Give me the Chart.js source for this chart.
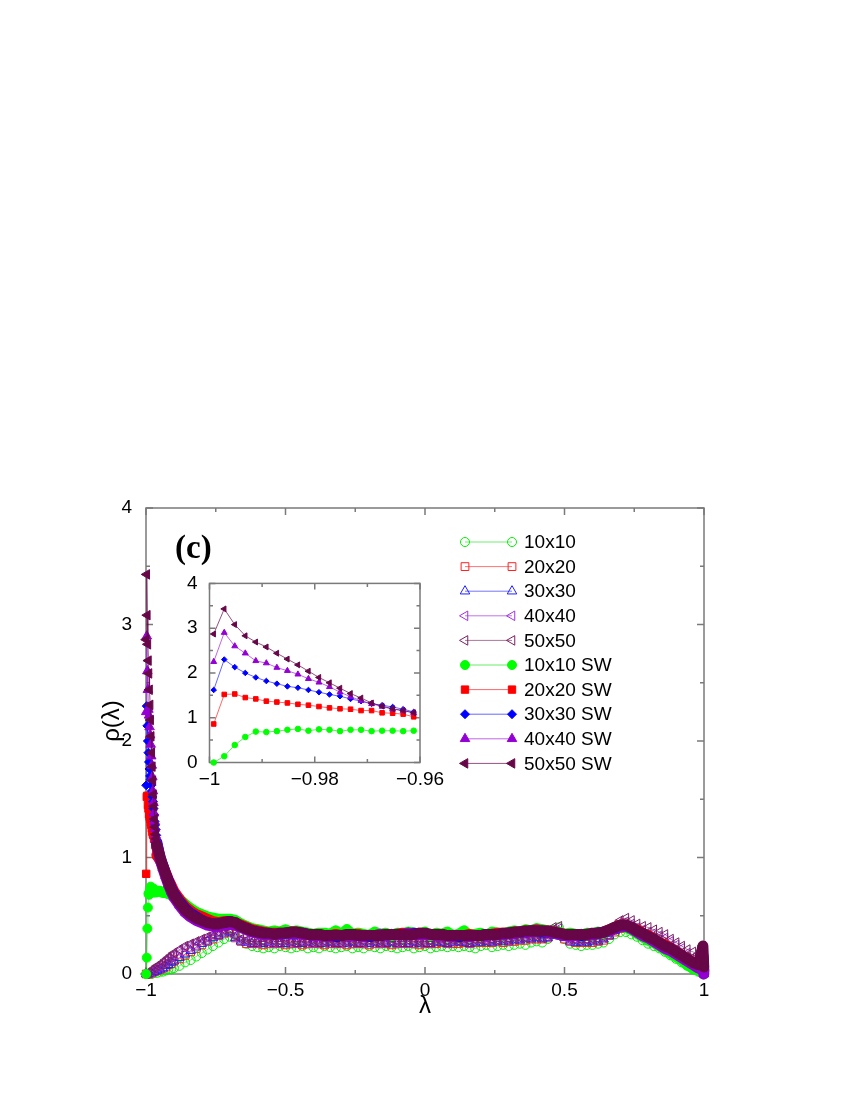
<!DOCTYPE html>
<html>
<head>
<meta charset="utf-8">
<script src="https://cdn.jsdelivr.net/npm/chart.js@4.4.1/dist/chart.umd.min.js"></script>
<style>
  body { margin: 0; background: #fff; }
  #caja { position: relative; width: 850px; height: 1100px; }
  #principal { position: absolute; left: 0; top: 0; }
  #recuadro { position: absolute; left: 150px; top: 560px; }
</style>
</head>
<body>
<div id="caja">
  <canvas id="principal" width="850" height="1100" style="width:850px;height:1100px"></canvas>
  <canvas id="recuadro" width="310" height="250" style="width:310px;height:250px"></canvas>
</div>
<script>
// --- Rejillas de lambda ---
// puntos junto a -1 (los del recuadro)
const lamCerca = [-0.9992, -0.9972, -0.9952, -0.9932, -0.9912, -0.9892, -0.9872, -0.9852, -0.9832, -0.9812,
  -0.9792, -0.9772, -0.9752, -0.9732, -0.9712, -0.9692, -0.9672, -0.9652, -0.9632, -0.9612];
const lamAbiertoCerca = [-0.9992, -0.99, -0.98, -0.97, -0.96];
const lamLejos = [
  -0.95, -0.94, -0.93, -0.92, -0.91, -0.90,
  -0.88, -0.86, -0.84, -0.82, -0.80, -0.78, -0.76, -0.74, -0.72, -0.70,
  -0.68, -0.66, -0.64, -0.62, -0.60, -0.58, -0.56, -0.54, -0.52, -0.50,
  -0.48, -0.46, -0.44, -0.42, -0.40, -0.38, -0.36, -0.34, -0.32, -0.30,
  -0.28, -0.26, -0.24, -0.22, -0.20, -0.18, -0.16, -0.14, -0.12, -0.10,
  -0.08, -0.06, -0.04, -0.02, 0.00, 0.02, 0.04, 0.06, 0.08, 0.10,
  0.12, 0.14, 0.16, 0.18, 0.20, 0.22, 0.24, 0.26, 0.28, 0.30,
  0.32, 0.34, 0.36, 0.38, 0.40, 0.42, 0.44, 0.46, 0.48, 0.50,
  0.52, 0.54, 0.56, 0.58, 0.60, 0.62, 0.64, 0.66, 0.68, 0.70,
  0.72, 0.74, 0.76, 0.78, 0.80, 0.82, 0.84, 0.86, 0.88, 0.90,
  0.92, 0.94, 0.96, 0.98,
  0.99, 0.996, 0.9992];

// --- Series SW, parte cercana a -1 (recuadro) ---
const sw10Cerca = [0.00, 0.14, 0.39, 0.57, 0.69, 0.68, 0.70, 0.73, 0.75, 0.71, 0.74, 0.73, 0.70, 0.73, 0.73, 0.70, 0.71, 0.71, 0.70, 0.71];
const sw20Cerca = [0.86, 1.52, 1.53, 1.45, 1.42, 1.37, 1.35, 1.33, 1.30, 1.28, 1.25, 1.22, 1.20, 1.19, 1.16, 1.16, 1.11, 1.10, 1.08, 1.02];
const sw30Cerca = [1.62, 2.30, 2.13, 2.00, 1.90, 1.82, 1.76, 1.70, 1.67, 1.62, 1.57, 1.52, 1.48, 1.42, 1.37, 1.31, 1.28, 1.24, 1.19, 1.13];
const sw40Cerca = [2.25, 2.90, 2.60, 2.44, 2.27, 2.22, 2.12, 2.05, 1.97, 1.87, 1.79, 1.69, 1.57, 1.47, 1.38, 1.31, 1.25, 1.19, 1.16, 1.11];
const sw50Cerca = [2.87, 3.43, 3.08, 2.83, 2.69, 2.58, 2.44, 2.31, 2.18, 2.04, 1.90, 1.78, 1.66, 1.54, 1.44, 1.33, 1.26, 1.20, 1.16, 1.11];

// --- Series SW, resto del intervalo ---
const sw10Lejos = [
  0.71, 0.70, 0.70, 0.69, 0.68, 0.67,
  0.64, 0.60, 0.56, 0.53, 0.51, 0.49, 0.48, 0.47, 0.47, 0.47,
  0.46, 0.43, 0.41, 0.39, 0.38, 0.37, 0.36, 0.37, 0.36, 0.38,
  0.36, 0.37, 0.36, 0.35, 0.34, 0.35, 0.35, 0.34, 0.37, 0.34,
  0.38, 0.34, 0.35, 0.34, 0.33, 0.36, 0.34, 0.35, 0.33, 0.35,
  0.34, 0.36, 0.35, 0.34, 0.36, 0.33, 0.35, 0.34, 0.36, 0.33,
  0.34, 0.37, 0.33, 0.34, 0.35, 0.33, 0.36, 0.35, 0.34, 0.36,
  0.37, 0.36, 0.38, 0.37, 0.39, 0.38, 0.37, 0.35, 0.36, 0.34,
  0.35, 0.34, 0.33, 0.35, 0.34, 0.36, 0.35, 0.37, 0.40, 0.41,
  0.40, 0.38, 0.35, 0.32, 0.29, 0.27, 0.24, 0.21, 0.18, 0.15,
  0.12, 0.08, 0.05, 0.03,
  0.02, 0.01, 0.00];
const sw20Lejos = [
  0.98, 0.93, 0.87, 0.81, 0.76, 0.71,
  0.64, 0.58, 0.54, 0.51, 0.49, 0.47, 0.45, 0.44, 0.45, 0.45,
  0.44, 0.42, 0.40, 0.38, 0.37, 0.36, 0.35, 0.35, 0.35, 0.35,
  0.36, 0.36, 0.35, 0.34, 0.34, 0.34, 0.33, 0.33, 0.34, 0.33,
  0.33, 0.34, 0.34, 0.33, 0.33, 0.33, 0.34, 0.34, 0.34, 0.34,
  0.35, 0.34, 0.34, 0.35, 0.34, 0.34, 0.34, 0.34, 0.33, 0.33,
  0.33, 0.33, 0.34, 0.33, 0.33, 0.34, 0.34, 0.35, 0.35, 0.35,
  0.36, 0.36, 0.37, 0.37, 0.38, 0.37, 0.37, 0.36, 0.35, 0.34,
  0.34, 0.34, 0.34, 0.34, 0.34, 0.35, 0.36, 0.38, 0.40, 0.42,
  0.42, 0.40, 0.38, 0.35, 0.33, 0.30, 0.27, 0.25, 0.22, 0.19,
  0.16, 0.13, 0.10, 0.07,
  0.10, 0.14, 0.02];
const sw30Lejos = [
  1.00, 0.93, 0.86, 0.80, 0.74, 0.69,
  0.62, 0.56, 0.52, 0.49, 0.46, 0.44, 0.43, 0.43, 0.44, 0.45,
  0.43, 0.41, 0.39, 0.37, 0.36, 0.35, 0.34, 0.34, 0.34, 0.35,
  0.35, 0.35, 0.35, 0.34, 0.33, 0.33, 0.33, 0.33, 0.32, 0.33,
  0.33, 0.33, 0.33, 0.33, 0.32, 0.33, 0.33, 0.33, 0.34, 0.34,
  0.34, 0.34, 0.35, 0.34, 0.34, 0.34, 0.34, 0.33, 0.33, 0.33,
  0.32, 0.33, 0.33, 0.33, 0.33, 0.34, 0.34, 0.34, 0.34, 0.35,
  0.35, 0.36, 0.36, 0.37, 0.37, 0.36, 0.36, 0.35, 0.34, 0.34,
  0.33, 0.33, 0.33, 0.34, 0.34, 0.35, 0.36, 0.37, 0.39, 0.41,
  0.41, 0.40, 0.37, 0.34, 0.32, 0.29, 0.26, 0.23, 0.21, 0.18,
  0.15, 0.12, 0.09, 0.06,
  0.12, 0.16, 0.03];
const sw40Lejos = [
  0.99, 0.91, 0.84, 0.77, 0.71, 0.66,
  0.59, 0.53, 0.49, 0.46, 0.44, 0.42, 0.41, 0.41, 0.42, 0.43,
  0.42, 0.40, 0.38, 0.36, 0.35, 0.34, 0.34, 0.34, 0.34, 0.35,
  0.35, 0.35, 0.34, 0.34, 0.33, 0.33, 0.33, 0.32, 0.33, 0.33,
  0.33, 0.33, 0.33, 0.32, 0.33, 0.33, 0.34, 0.33, 0.34, 0.34,
  0.34, 0.35, 0.34, 0.34, 0.34, 0.34, 0.33, 0.33, 0.33, 0.32,
  0.33, 0.33, 0.32, 0.33, 0.33, 0.33, 0.34, 0.34, 0.34, 0.35,
  0.35, 0.36, 0.36, 0.36, 0.37, 0.37, 0.36, 0.35, 0.34, 0.33,
  0.33, 0.33, 0.34, 0.34, 0.34, 0.35, 0.36, 0.37, 0.39, 0.41,
  0.41, 0.39, 0.36, 0.33, 0.31, 0.28, 0.25, 0.22, 0.20, 0.17,
  0.14, 0.11, 0.08, 0.05,
  0.08, 0.10, 0.00];
const sw50Lejos = [
  1.01, 0.93, 0.86, 0.79, 0.73, 0.68,
  0.61, 0.55, 0.51, 0.48, 0.46, 0.44, 0.43, 0.43, 0.44, 0.45,
  0.44, 0.41, 0.39, 0.37, 0.36, 0.35, 0.35, 0.34, 0.35, 0.35,
  0.36, 0.36, 0.35, 0.34, 0.34, 0.34, 0.33, 0.33, 0.33, 0.33,
  0.34, 0.34, 0.33, 0.33, 0.33, 0.33, 0.33, 0.34, 0.34, 0.34,
  0.34, 0.34, 0.34, 0.35, 0.35, 0.34, 0.34, 0.34, 0.33, 0.33,
  0.33, 0.33, 0.33, 0.33, 0.33, 0.34, 0.34, 0.34, 0.35, 0.35,
  0.36, 0.36, 0.37, 0.37, 0.37, 0.37, 0.37, 0.36, 0.35, 0.34,
  0.34, 0.34, 0.34, 0.34, 0.35, 0.35, 0.36, 0.38, 0.40, 0.42,
  0.42, 0.40, 0.37, 0.35, 0.32, 0.30, 0.27, 0.24, 0.22, 0.19,
  0.16, 0.13, 0.10, 0.08,
  0.17, 0.24, 0.06];

// --- Series sin SW (marcadores huecos): 5 puntos cercanos + resto ---
const ab10 = [0.00, 0.00, 0.00, 0.01, 0.01,
  0.02, 0.02, 0.03, 0.04, 0.04, 0.05,
  0.07, 0.10, 0.12, 0.15, 0.18, 0.21, 0.24, 0.27, 0.30, 0.32,
  0.34, 0.29, 0.26, 0.24, 0.23, 0.22, 0.23, 0.22, 0.24, 0.23,
  0.22, 0.23, 0.24, 0.22, 0.23, 0.22, 0.24, 0.23, 0.22, 0.23,
  0.24, 0.22, 0.23, 0.22, 0.24, 0.23, 0.22, 0.24, 0.23, 0.22,
  0.23, 0.24, 0.22, 0.23, 0.24, 0.22, 0.23, 0.24, 0.23, 0.24,
  0.23, 0.24, 0.23, 0.22, 0.24, 0.25, 0.23, 0.24, 0.25, 0.24,
  0.25, 0.26, 0.25, 0.27, 0.28, 0.27, 0.30, 0.38, 0.40, 0.30,
  0.26, 0.25, 0.24, 0.25, 0.25, 0.26, 0.27, 0.30, 0.34, 0.36,
  0.36, 0.34, 0.32, 0.29, 0.26, 0.24, 0.22, 0.19, 0.16, 0.13,
  0.10, 0.07, 0.04, 0.02,
  0.03, 0.05, 0.00];
const ab20 = [0.00, 0.00, 0.01, 0.02, 0.03,
  0.04, 0.05, 0.06, 0.08, 0.09, 0.11,
  0.13, 0.16, 0.19, 0.22, 0.25, 0.28, 0.30, 0.33, 0.35, 0.36,
  0.31, 0.28, 0.26, 0.26, 0.26, 0.25, 0.26, 0.26, 0.26, 0.25,
  0.26, 0.26, 0.25, 0.26, 0.26, 0.26, 0.25, 0.26, 0.26, 0.26,
  0.25, 0.26, 0.26, 0.26, 0.25, 0.26, 0.26, 0.26, 0.25, 0.26,
  0.26, 0.26, 0.26, 0.25, 0.26, 0.26, 0.26, 0.27, 0.26, 0.26,
  0.26, 0.27, 0.26, 0.27, 0.27, 0.27, 0.27, 0.28, 0.27, 0.28,
  0.28, 0.29, 0.29, 0.30, 0.30, 0.30, 0.31, 0.34, 0.35, 0.30,
  0.28, 0.27, 0.27, 0.27, 0.27, 0.28, 0.29, 0.33, 0.36, 0.39,
  0.40, 0.38, 0.35, 0.32, 0.30, 0.28, 0.25, 0.22, 0.19, 0.16,
  0.13, 0.10, 0.07, 0.04,
  0.06, 0.10, 0.01];
const ab30 = [0.00, 0.00, 0.01, 0.02, 0.03,
  0.04, 0.05, 0.07, 0.08, 0.10, 0.11,
  0.14, 0.17, 0.20, 0.23, 0.26, 0.28, 0.31, 0.33, 0.35, 0.36,
  0.31, 0.28, 0.27, 0.26, 0.26, 0.26, 0.27, 0.26, 0.26, 0.26,
  0.27, 0.26, 0.26, 0.27, 0.26, 0.26, 0.26, 0.27, 0.26, 0.26,
  0.26, 0.27, 0.26, 0.26, 0.26, 0.27, 0.26, 0.26, 0.27, 0.26,
  0.26, 0.26, 0.27, 0.26, 0.26, 0.26, 0.27, 0.27, 0.26, 0.27,
  0.27, 0.27, 0.26, 0.27, 0.27, 0.28, 0.27, 0.28, 0.28, 0.28,
  0.29, 0.29, 0.30, 0.30, 0.31, 0.30, 0.31, 0.35, 0.36, 0.31,
  0.28, 0.27, 0.27, 0.27, 0.28, 0.28, 0.30, 0.33, 0.37, 0.40,
  0.40, 0.38, 0.35, 0.33, 0.31, 0.28, 0.26, 0.23, 0.20, 0.17,
  0.14, 0.11, 0.08, 0.05,
  0.08, 0.12, 0.01];
const ab40 = [0.00, 0.01, 0.02, 0.04, 0.06,
  0.07, 0.09, 0.11, 0.13, 0.15, 0.17,
  0.20, 0.23, 0.25, 0.27, 0.29, 0.31, 0.33, 0.35, 0.37, 0.37,
  0.32, 0.29, 0.28, 0.28, 0.27, 0.28, 0.28, 0.27, 0.28, 0.28,
  0.27, 0.28, 0.28, 0.27, 0.27, 0.28, 0.27, 0.28, 0.28, 0.27,
  0.27, 0.28, 0.28, 0.27, 0.28, 0.28, 0.27, 0.28, 0.28, 0.27,
  0.28, 0.28, 0.28, 0.27, 0.28, 0.28, 0.28, 0.29, 0.28, 0.28,
  0.28, 0.29, 0.28, 0.28, 0.29, 0.29, 0.28, 0.29, 0.30, 0.29,
  0.30, 0.30, 0.31, 0.31, 0.32, 0.31, 0.33, 0.38, 0.39, 0.32,
  0.29, 0.29, 0.28, 0.29, 0.29, 0.30, 0.31, 0.35, 0.40, 0.44,
  0.45, 0.43, 0.40, 0.38, 0.36, 0.35, 0.33, 0.31, 0.28, 0.25,
  0.22, 0.18, 0.14, 0.11,
  0.14, 0.18, 0.02];
const ab50 = [0.00, 0.01, 0.03, 0.05, 0.07,
  0.08, 0.10, 0.12, 0.14, 0.16, 0.18,
  0.21, 0.24, 0.26, 0.28, 0.30, 0.32, 0.34, 0.36, 0.38, 0.37,
  0.33, 0.30, 0.29, 0.28, 0.28, 0.28, 0.29, 0.28, 0.28, 0.29,
  0.28, 0.28, 0.27, 0.28, 0.28, 0.27, 0.28, 0.28, 0.27, 0.28,
  0.28, 0.28, 0.27, 0.28, 0.29, 0.28, 0.28, 0.27, 0.28, 0.28,
  0.28, 0.29, 0.28, 0.28, 0.27, 0.28, 0.28, 0.28, 0.28, 0.29,
  0.28, 0.28, 0.28, 0.29, 0.29, 0.28, 0.29, 0.29, 0.30, 0.30,
  0.30, 0.31, 0.31, 0.32, 0.32, 0.31, 0.34, 0.40, 0.41, 0.33,
  0.30, 0.29, 0.29, 0.29, 0.30, 0.30, 0.32, 0.36, 0.42, 0.46,
  0.48, 0.46, 0.43, 0.41, 0.40, 0.38, 0.36, 0.34, 0.30, 0.27,
  0.24, 0.21, 0.19, 0.17,
  0.20, 0.22, 0.04];

// --- Marcas de los ejes ---
const ticksX = [-1, -0.5, 0, 0.5, 1];
const menoresX = [-0.75, -0.25, 0.25, 0.75];
const ticksY = [0, 1, 2, 3, 4];
const menoresY = [0.5, 1.5, 2.5, 3.5];
const ticksXRecuadro = [-1, -0.98, -0.96];
const menoresXRecuadro = [-0.99, -0.97];

const lamSW = lamCerca.concat(lamLejos);
const lamAbierto = lamAbiertoCerca.concat(lamLejos);

const estilos = [
  { label: '10x10', color: '#00ee00', linea: 'rgba(0,220,0,0.55)', forma: 'circle', rot: 0, relleno: false, r: 4.5, xs: lamAbierto, ys: ab10 },
  { label: '20x20', color: '#ff2020', linea: 'rgba(255,0,0,0.55)', forma: 'rect', rot: 0, relleno: false, r: 5.5, xs: lamAbierto, ys: ab20 },
  { label: '30x30', color: '#2020ff', linea: 'rgba(0,0,255,0.55)', forma: 'triangle', rot: 0, relleno: false, r: 5.5, xs: lamAbierto, ys: ab30 },
  { label: '40x40', color: '#a030e0', linea: 'rgba(148,0,211,0.55)', forma: 'triangle', rot: -90, relleno: false, r: 5.5, xs: lamAbierto, ys: ab40 },
  { label: '50x50', color: '#7a2060', linea: 'rgba(103,7,72,0.55)', forma: 'triangle', rot: -90, relleno: false, r: 5.5, xs: lamAbierto, ys: ab50 },
  { label: '10x10 SW', color: '#00ff00', linea: 'rgba(0,220,0,0.6)', forma: 'circle', rot: 0, relleno: true, r: 4.5, xs: lamSW, ys: sw10Cerca.concat(sw10Lejos) },
  { label: '20x20 SW', color: '#ff0000', linea: 'rgba(255,0,0,0.6)', forma: 'rect', rot: 0, relleno: true, r: 5.2, xs: lamSW, ys: sw20Cerca.concat(sw20Lejos) },
  { label: '30x30 SW', color: '#0000ff', linea: 'rgba(0,0,255,0.6)', forma: 'rectRot', rot: 0, relleno: true, r: 4.5, xs: lamSW, ys: sw30Cerca.concat(sw30Lejos) },
  { label: '40x40 SW', color: '#9400d3', linea: 'rgba(148,0,211,0.6)', forma: 'triangle', rot: 0, relleno: true, r: 5.5, xs: lamSW, ys: sw40Cerca.concat(sw40Lejos) },
  { label: '50x50 SW', color: '#670748', linea: 'rgba(103,7,72,0.7)', forma: 'triangle', rot: -90, relleno: true, r: 5.5, xs: lamSW, ys: sw50Cerca.concat(sw50Lejos) }
];

function pares(xs, ys) {
  if (xs.length !== ys.length) console.warn('longitudes distintas', xs.length, ys.length);
  return ys.map((v, i) => ({ x: xs[i], y: v }));
}

function fmt(v) {
  const r = parseFloat(Number(v).toFixed(3));
  return r < 0 ? '\u2212' + Math.abs(r) : String(r);
}

function crearDataset(e, i, escala, soloCerca) {
  const ys = soloCerca ? e.ys.slice(0, lamCerca.length) : e.ys;
  const xs = soloCerca ? lamCerca : e.xs;
  const ds = {
    label: e.label,
    data: pares(xs, ys),
    showLine: true,
    borderColor: e.linea,
    borderWidth: 1,
    pointStyle: e.forma,
    pointRotation: e.rot,
    pointRadius: e.r * escala,
    pointBorderWidth: 1,
    pointBorderColor: e.color,
    pointBackgroundColor: e.relleno ? e.color : 'rgba(0,0,0,0)',
    clip: false,
    order: 9 - i
  };
  // En la grafica grande los puntos SW estan tan juntos que forman una banda continua
  if (e.relleno && !soloCerca) {
    ds.borderCapStyle = 'round';
    ds.borderJoinStyle = 'round';
    ds.segment = {
      borderWidth: c => c.p0DataIndex < lamCerca.length - 1 ? 1 : 11,
      borderColor: c => c.p0DataIndex < lamCerca.length - 1 ? e.linea : e.color
    };
  }
  return ds;
}

// Marco y marcas hacia dentro en los cuatro lados
function pluginMarco(tx, mx, ty, my, largo, corto) {
  return {
    id: 'marco',
    beforeDatasetsDraw(chart) {
      const { ctx, chartArea: a } = chart;
      const sx = chart.scales.x, sy = chart.scales.y;
      ctx.save();
      ctx.strokeStyle = '#7a7a7a';
      ctx.lineWidth = 1.5;
      ctx.strokeRect(a.left, a.top, a.right - a.left, a.bottom - a.top);
      ctx.beginPath();
      const marcasX = (vals, l) => vals.forEach(v => {
        const p = sx.getPixelForValue(v);
        ctx.moveTo(p, a.bottom); ctx.lineTo(p, a.bottom - l);
        ctx.moveTo(p, a.top); ctx.lineTo(p, a.top + l);
      });
      const marcasY = (vals, l) => vals.forEach(v => {
        const p = sy.getPixelForValue(v);
        ctx.moveTo(a.left, p); ctx.lineTo(a.left + l, p);
        ctx.moveTo(a.right, p); ctx.lineTo(a.right - l, p);
      });
      marcasX(tx, largo); marcasX(mx, corto);
      marcasY(ty, largo); marcasY(my, corto);
      ctx.stroke();
      ctx.restore();
    }
  };
}

// Leyenda y textos sueltos
const pluginTextos = {
  id: 'textos',
  afterDraw(chart) {
    const ctx = chart.ctx;
    ctx.save();
    estilos.forEach((e, i) => {
      const y = 542 + i * 24.6;
      ctx.strokeStyle = e.linea;
      ctx.lineWidth = 1;
      ctx.beginPath(); ctx.moveTo(465, y); ctx.lineTo(512, y); ctx.stroke();
      [465, 512].forEach(x => {
        ctx.fillStyle = e.relleno ? e.color : 'rgba(0,0,0,0)';
        ctx.strokeStyle = e.color;
        ctx.lineWidth = 1;
        Chart.helpers.drawPoint(ctx, { pointStyle: e.forma, rotation: e.rot, radius: e.r, borderWidth: 1 }, x, y);
      });
      ctx.fillStyle = '#000';
      ctx.font = '19px "Liberation Sans"';
      ctx.textAlign = 'left';
      ctx.textBaseline = 'middle';
      ctx.fillText(e.label, 524, y + 1);
    });

    ctx.fillStyle = '#000';
    ctx.font = 'bold 33px "Liberation Serif"';
    ctx.textAlign = 'left';
    ctx.textBaseline = 'alphabetic';
    ctx.fillText('(c)', 175, 558);

    ctx.font = '24px "Liberation Sans"';
    ctx.textAlign = 'center';
    ctx.textBaseline = 'middle';
    ctx.fillText('\u03bb', 425, 1006);

    ctx.translate(112, 721);
    ctx.rotate(-Math.PI / 2);
    ctx.fillText('\u03c1(\u03bb)', 0, 0);
    ctx.restore();
  }
};

function ejes(cfg) {
  const fuente = { family: 'Liberation Sans', size: 19 };
  return {
    x: {
      type: 'linear', min: cfg.xmin, max: cfg.xmax,
      afterBuildTicks: s => { s.ticks = cfg.tx.map(v => ({ value: v })); },
      afterFit: s => { s.height = cfg.altoX; },
      grid: { display: false, drawTicks: false },
      border: { display: false },
      ticks: { padding: cfg.padX, font: fuente, color: '#000', callback: fmt, maxRotation: 0, autoSkip: false }
    },
    y: {
      type: 'linear', min: 0, max: 4,
      afterBuildTicks: s => { s.ticks = ticksY.map(v => ({ value: v })); },
      afterFit: s => { s.width = cfg.anchoY; },
      grid: { display: false, drawTicks: false },
      border: { display: false },
      ticks: { padding: cfg.padY, font: fuente, color: '#000', callback: fmt, autoSkip: false }
    }
  };
}

new Chart(document.getElementById('principal'), {
  type: 'scatter',
  data: { datasets: estilos.map((e, i) => crearDataset(e, i, 1, false)) },
  options: {
    responsive: false, animation: false, devicePixelRatio: 1, events: [],
    layout: { padding: { left: 0, right: 146, top: 508, bottom: 96 } },
    plugins: { legend: { display: false }, tooltip: { enabled: false } },
    scales: ejes({ xmin: -1, xmax: 1, tx: ticksX, altoX: 30, padX: 5, anchoY: 146, padY: 14 })
  },
  plugins: [pluginMarco(ticksX, menoresX, ticksY, menoresY, 7, 4), pluginTextos]
});

// Recuadro: solo las series SW junto a lambda = -1
new Chart(document.getElementById('recuadro'), {
  type: 'scatter',
  data: { datasets: estilos.slice(5).map((e, i) => crearDataset(e, i + 5, 0.62, true)) },
  options: {
    responsive: false, animation: false, devicePixelRatio: 1, events: [],
    layout: { padding: { left: 0, right: 40, top: 23, bottom: 17.5 } },
    plugins: { legend: { display: false }, tooltip: { enabled: false } },
    scales: ejes({ xmin: -1, xmax: -0.96, tx: ticksXRecuadro, altoX: 30, padX: 6, anchoY: 59.5, padY: 12 })
  },
  plugins: [pluginMarco(ticksXRecuadro, menoresXRecuadro, ticksY, menoresY, 6, 3.5)]
});
</script>
</body>
</html>
